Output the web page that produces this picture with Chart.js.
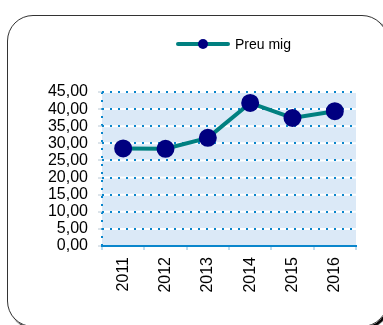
<!DOCTYPE html>
<html>
<head>
<meta charset="utf-8">
<script src="https://cdn.jsdelivr.net/npm/chart.js@4/dist/chart.umd.min.js"></script>
<style>
  body { margin: 0; background: #fff; }
  #wrap { position: relative; width: 383px; height: 325px; overflow: hidden; font-family: Arial, "Liberation Sans", sans-serif; }
  #frame {
    position: absolute; left: 7px; top: 15px; width: 379px; height: 310px;
    border: 1px solid #333; border-radius: 26px;
    box-shadow: 2px 2px 1px #000;
  }
  #chart { position: absolute; left: 0; top: 0; }
  #legend { position: absolute; left: 176px; top: 35px; height: 18px; display: flex; align-items: center; }
  #legend .key { position: relative; width: 54px; height: 18px; }
  #legend .key .ln { position: absolute; left: 0; top: 7px; width: 54px; height: 4px; border-radius: 2px; background: #008080; }
  #legend .key .dot { position: absolute; left: 22px; top: 4px; width: 10px; height: 10px; border-radius: 50%; background: #000080; }
  #legend .txt { margin-left: 5px; font-size: 14px; color: #000; }
</style>
</head>
<body>
<div id="wrap">
  <div id="frame"></div>
  <canvas id="chart" width="383" height="325"></canvas>
  <div id="legend"><div class="key"><div class="ln"></div><div class="dot"></div></div><span class="txt">Preu mig</span></div>
</div>
<script>
const years = ['2011', '2012', '2013', '2014', '2015', '2016'];
const preuMig = [28.5, 28.4, 31.6, 41.8, 37.4, 39.4];
const seriesLabel = 'Preu mig';

const gridBlue = '#0a86cc';

// light blue plot background + white strip under each dotted gridline
const plotBackground = {
  id: 'plotBackground',
  beforeDraw(chart) {
    const { ctx, chartArea: a, scales: { y } } = chart;
    ctx.save();
    ctx.fillStyle = '#dbe9f7';
    ctx.fillRect(a.left, a.top, a.right - a.left, a.bottom - a.top);
    ctx.strokeStyle = '#ffffff';
    ctx.lineWidth = 2;
    y.ticks.forEach(t => {
      const py = y.getPixelForValue(t.value);
      ctx.beginPath();
      ctx.moveTo(a.left, py);
      ctx.lineTo(a.right, py);
      ctx.stroke();
    });
    ctx.restore();
  }
};

function initPriceChart() {
  const ctx = document.getElementById('chart');
  if (!ctx) return;

  new Chart(ctx, {
    type: 'line',
    data: {
      labels: years,
      datasets: [{
        label: seriesLabel,
        data: preuMig,
        borderColor: '#008080',
        borderWidth: 4,
        backgroundColor: '#000080',
        pointBackgroundColor: '#000080',
        pointBorderColor: '#000080',
        pointRadius: 7,
        pointHoverRadius: 7,
        tension: 0,
        fill: false
      }]
    },
    options: {
      responsive: false,
      animation: false,
      layout: { padding: { left: 7, top: 92, right: 27, bottom: 0 } },
      plugins: {
        legend: { display: false },
        tooltip: { enabled: false }
      },
      scales: {
        x: {
          offset: true,
          grid: {
            offset: true,
            color: c => (c.index === 0 || c.index === years.length) ? gridBlue : 'transparent',
            lineWidth: 2,
            tickColor: '#7fb8dc',
            tickWidth: 1,
            tickLength: 4
          },
          border: { display: true, color: gridBlue, width: 2, dash: [2, 6] },
          ticks: {
            color: '#000',
            font: { family: 'Arial, "Liberation Sans"', size: 16 },
            minRotation: 90,
            maxRotation: 90,
            autoSkip: false,
            padding: 7
          },
          afterFit: s => { s.height = 79; }
        },
        y: {
          min: 0,
          max: 45,
          grid: {
            color: gridBlue,
            lineWidth: 2,
            tickColor: '#b8c8d4',
            tickWidth: 1,
            tickLength: 4
          },
          border: { display: false, dash: [2, 6] },
          ticks: {
            stepSize: 5,
            autoSkip: false,
            color: '#000',
            padding: 10,
            font: { family: 'Arial, "Liberation Sans"', size: 16 },
            callback: v => v.toFixed(2).replace('.', ',')
          },
          afterFit: s => { s.width = 95; }
        }
      }
    },
    plugins: [plotBackground]
  });
}

document.addEventListener('DOMContentLoaded', initPriceChart);
</script>
</body>
</html>
